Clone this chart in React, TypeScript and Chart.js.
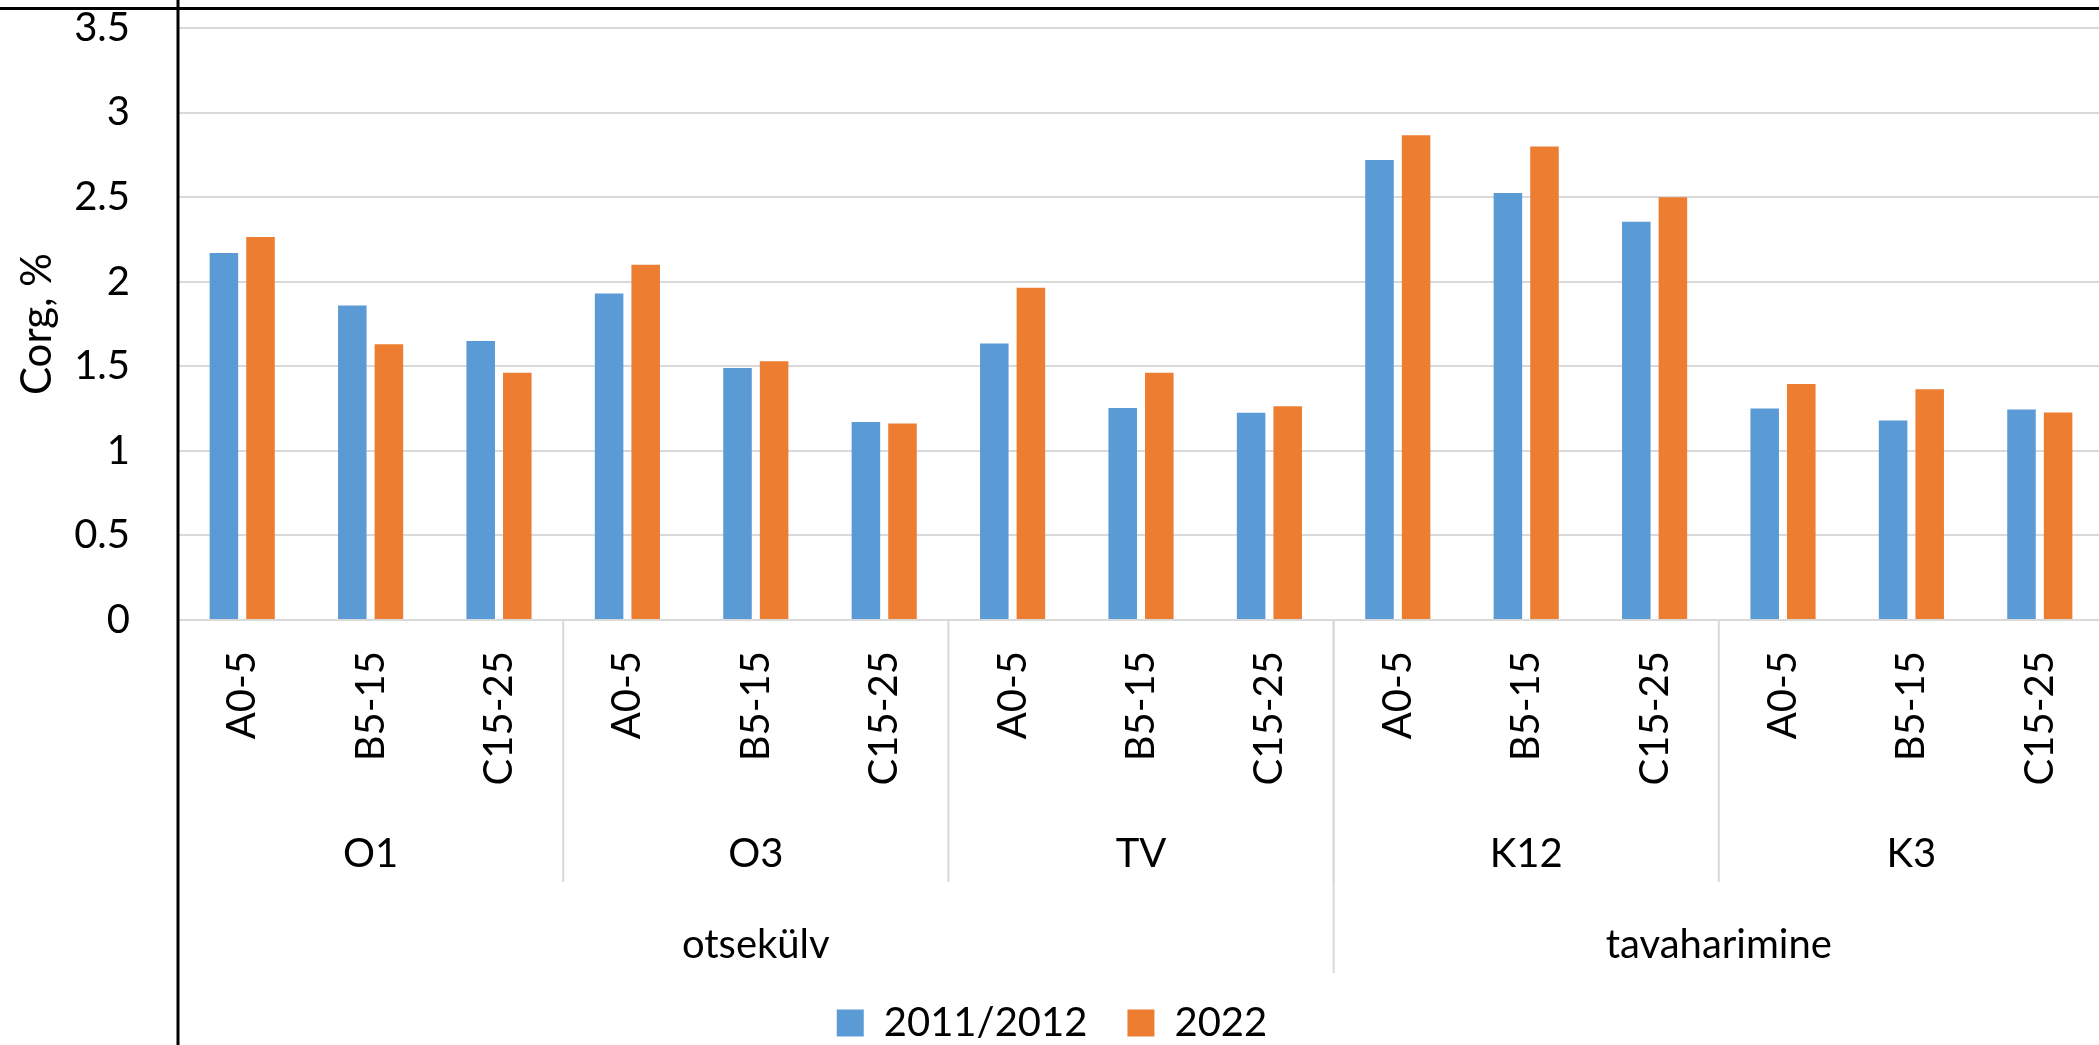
import React, { useEffect, useRef } from "react";
import { Chart, registerables } from "chart.js";

Chart.register(...registerables);

// ---- data ----
const layers = ["A0-5", "B5-15", "C15-25"];
const sites = ["O1", "O3", "TV", "K12", "K3"];
const landUse = ["otsekülv", "tavaharimine"];
const sitesPerLandUse = [3, 2];
const seriesNames = ["2011/2012", "2022"];
const values2011 = [2.17, 1.86, 1.65, 1.93, 1.49, 1.17, 1.635, 1.253, 1.225, 2.72, 2.525, 2.355, 1.25, 1.18, 1.245];
const values2022 = [2.265, 1.63, 1.462, 2.1, 1.53, 1.162, 1.965, 1.462, 1.263, 2.866, 2.8, 2.5, 1.395, 1.364, 1.227];
const yMin = 0;
const yMax = 3.5;
const yStep = 0.5;
const yTitle = "Corg, %";

const categories = sites.flatMap(() => layers);

const W = 2104;
const H = 1053;
const FONT = "Lato";

const groupPlugin = {
  id: "groupLabels",
  afterDraw(chart: any) {
    const { ctx, chartArea } = chart;
    const x = chart.scales.x;
    const half = (x.getPixelForValue(1) - x.getPixelForValue(0)) / 2;
    const base = chartArea.bottom;
    ctx.save();
    ctx.strokeStyle = "#d9d9d9";
    ctx.lineWidth = 2;
    ctx.fillStyle = "#000";
    ctx.font = `40px ${FONT}`;
    ctx.textAlign = "center";
    ctx.textBaseline = "alphabetic";
    const vline = (px: number, y0: number, y1: number) => {
      ctx.beginPath();
      ctx.moveTo(px, y0);
      ctx.lineTo(px, y1);
      ctx.stroke();
    };
    // level 1: sites
    let idx = 0;
    sites.forEach((s) => {
      const l = x.getPixelForValue(idx) - half;
      const r = x.getPixelForValue(idx + layers.length - 1) + half;
      vline(l, base, base + 262);
      ctx.fillText(s, (l + r) / 2, base + 247);
      idx += layers.length;
    });
    // level 2: land use
    idx = 0;
    landUse.forEach((g, gi) => {
      const n = sitesPerLandUse[gi] * layers.length;
      const l = x.getPixelForValue(idx) - half;
      const r = x.getPixelForValue(idx + n - 1) + half;
      vline(l, base, base + 353);
      ctx.fillText(g, (l + r) / 2, base + 338);
      idx += n;
    });
    // black frame lines
    ctx.strokeStyle = "#000";
    ctx.lineWidth = 3;
    ctx.beginPath();
    ctx.moveTo(chartArea.left, 0);
    ctx.lineTo(chartArea.left, chart.height);
    ctx.stroke();
    ctx.beginPath();
    ctx.moveTo(0, 8.5);
    ctx.lineTo(chart.width, 8.5);
    ctx.stroke();
    ctx.restore();
  },
};

export default function App() {
  const ref = useRef<HTMLCanvasElement | null>(null);
  useEffect(() => {
    if (!ref.current) return;
    const chart = new Chart(ref.current, {
      type: "bar",
      data: {
        labels: categories,
        datasets: [
          {
            label: seriesNames[0],
            data: values2011,
            backgroundColor: "#5B9BD5",
            borderWidth: 0,
            categoryPercentage: 0.57,
            barPercentage: 0.78,
          },
          {
            label: seriesNames[1],
            data: values2022,
            backgroundColor: "#ED7D31",
            borderWidth: 0,
            categoryPercentage: 0.57,
            barPercentage: 0.78,
          },
        ],
      },
      options: {
        animation: false,
        responsive: false,
        maintainAspectRatio: false,
        devicePixelRatio: 1,
        layout: { padding: { top: 28, left: 0, right: 0, bottom: 0 } },
        plugins: {
          legend: {
            position: "bottom",
            labels: {
              boxWidth: 27,
              boxHeight: 27,
              padding: 40,
              color: "#000",
              font: { family: FONT, size: 40 },
            },
          },
          tooltip: { enabled: false },
        },
        scales: {
          x: {
            grid: { display: false, drawTicks: false },
            border: { display: false },
            ticks: {
              autoSkip: false,
              maxRotation: 90,
              minRotation: 90,
              padding: 31,
              color: "#000",
              font: { family: FONT, size: 40 },
            },
            afterFit: (s: any) => {
              s.height = H - 90 - 620;
              s.paddingLeft = 0;
              s.paddingRight = 0;
            },
          },
          y: {
            min: yMin,
            max: yMax,
            grid: { color: "#d9d9d9", lineWidth: 2, drawTicks: false },
            border: { display: false },
            ticks: {
              stepSize: yStep,
              padding: 48,
              color: "#000",
              font: { family: FONT, size: 40 },
              callback: (v: any) => String(Math.round(Number(v) * 10) / 10),
            },
            title: {
              display: true,
              text: yTitle,
              color: "#000",
              font: { family: FONT, size: 42 },
              padding: { top: 12, bottom: 0 },
            },
            afterFit: (s: any) => {
              s.width = 178;
              s.paddingTop = 0;
              s.paddingBottom = 0;
            },
          },
        },
      },
      plugins: [groupPlugin],
    });
    return () => chart.destroy();
  }, []);

  return (
    <div
      style={{
        position: "absolute",
        left: 0,
        top: 0,
        width: 2099,
        height: 1045,
        overflow: "hidden",
        background: "#fff",
      }}
    >
      <canvas ref={ref} width={W} height={H} style={{ display: "block", width: W, height: H }} />
    </div>
  );
}
